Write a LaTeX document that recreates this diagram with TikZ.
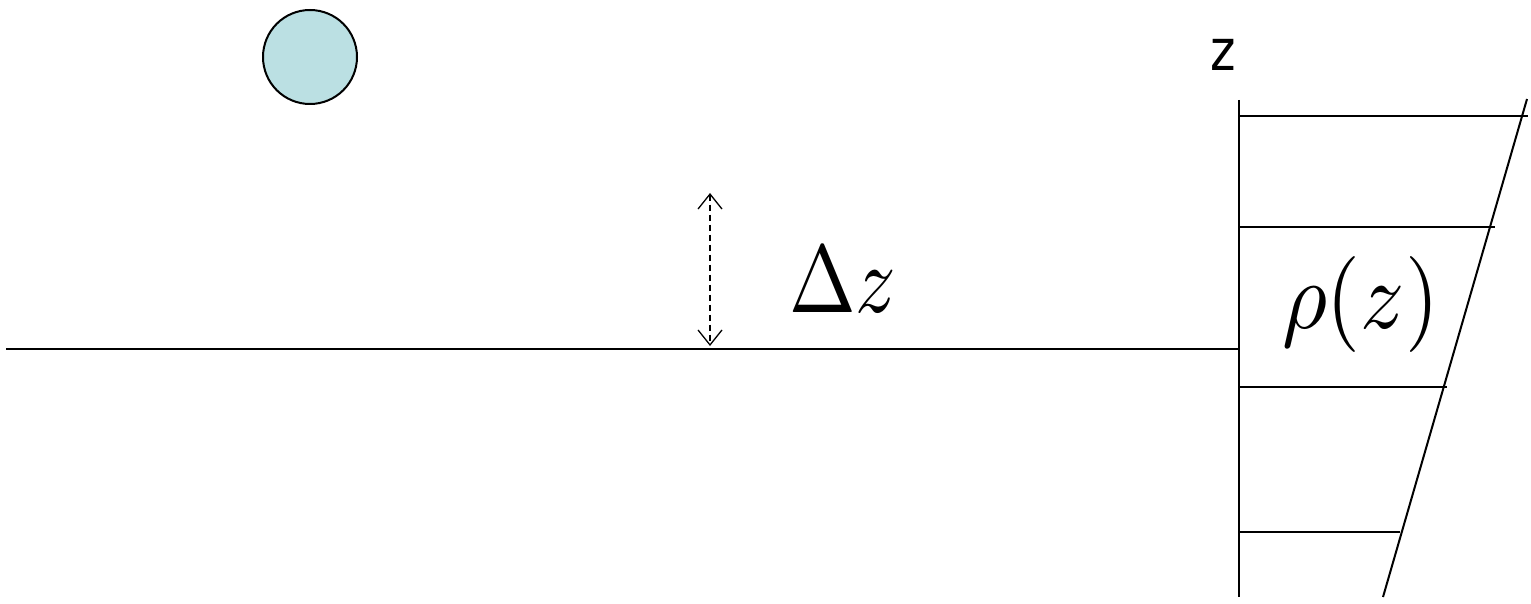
\documentclass[tikz,border=0pt]{standalone}
\usepackage{graphicx}
\usepackage{fontspec}
\newfontfamily\zsans{DejaVu Sans}
\usetikzlibrary{arrows.meta}
\definecolor{ballcol}{RGB}{187,224,227}
\begin{document}
\begin{tikzpicture}[x=1pt,y=-1pt,
  thickline/.style={line width=2pt},
  gap/.style={line width=1.3pt, dash pattern=on 6pt off 4pt,
    {Straight Barb[length=15pt,width=24pt,line width=1.3pt]}-{Straight Barb[length=15pt,width=24pt,line width=1.3pt]}},
  lbl/.style={inner sep=0pt, outer sep=0pt}]
\useasboundingbox (0,0) rectangle (1531,604);
% ball
\node[circle, draw, thickline, fill=ballcol, minimum size=94pt, inner sep=0pt] (ball) at (310,57) {};
% surface
\coordinate (sL) at (6,349);
\coordinate (sR) at (1239,349);
\draw[thickline] (sL) -- (sR);
% gap arrow
\coordinate (gT) at (710,193);
\coordinate (gB) at (710,346);
\draw[gap] (gT) -- (gB);
\node[lbl, anchor=base west] (dz) at (789,312) {\scalebox{8.0}[9.6]{$\Delta z$}};
% axis
\coordinate (aT) at (1239,100);
\coordinate (aB) at (1239,597);
\draw[thickline] (aT) -- (aB);
\node[lbl, anchor=base] (zl) at (1223,71) {\scalebox{0.85}[1]{\zsans\fontsize{57}{57}\selectfont z}};
% density profile
\coordinate (pT) at (1527,99);
\coordinate (pB) at (1383,597);
\draw[thickline] (pT) -- (pB);
\coordinate (r1a) at (1239,116); \coordinate (r1b) at (1528,116);
\coordinate (r2a) at (1239,227); \coordinate (r2b) at (1495,227);
\coordinate (r3a) at (1239,387); \coordinate (r3b) at (1447,387);
\coordinate (r4a) at (1239,532); \coordinate (r4b) at (1400,532);
\draw[thickline] (r1a) -- (r1b);
\draw[thickline] (r2a) -- (r2b);
\draw[thickline] (r3a) -- (r3b);
\draw[thickline] (r4a) -- (r4b);
\node[lbl, anchor=base west] (rho) at (1282,328) {\scalebox{8.7}[9.6]{$\rho(z)$}};
\end{tikzpicture}
\end{document}
